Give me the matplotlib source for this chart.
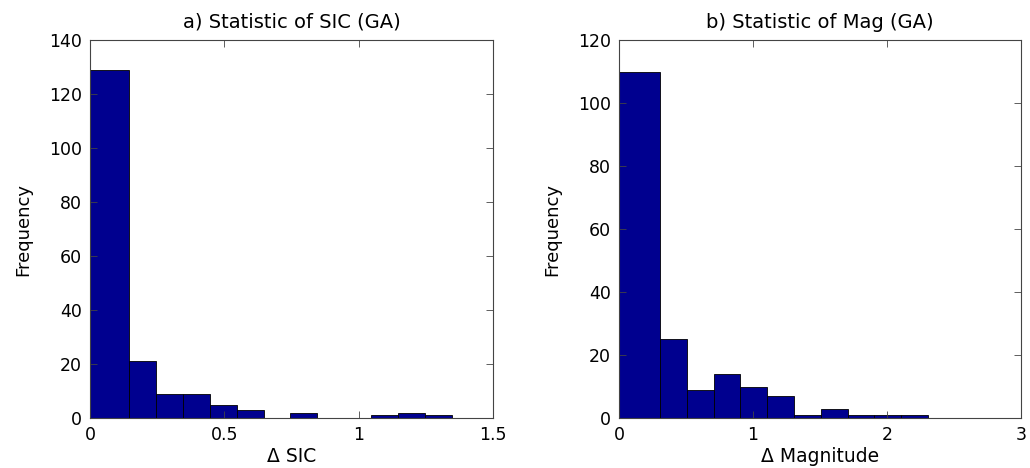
import matplotlib
matplotlib.use("Agg")
import matplotlib.pyplot as plt
import numpy as np

# histogram of Delta SIC (bin edges and counts)
sic_edges = [0, 0.146, 0.246, 0.346, 0.446, 0.546, 0.646, 0.746, 0.846,
             0.946, 1.046, 1.146, 1.246, 1.346]
sic_counts = [129, 21, 9, 9, 5, 3, 0, 2, 0, 0, 1, 2, 1]

# histogram of Delta Magnitude
mag_edges = [0, 0.306, 0.506, 0.706, 0.906, 1.106, 1.306, 1.506, 1.706,
             1.906, 2.106, 2.306]
mag_counts = [110, 25, 9, 14, 10, 7, 1, 3, 1, 1, 1]

titles = ["a) Statistic of SIC (GA)", "b) Statistic of Mag (GA)"]
xlabels = ["\u0394 SIC", "\u0394 Magnitude"]
xticks = [[0, 0.5, 1, 1.5], [0, 1, 2, 3]]
xticklabels = [["0", "0.5", "1", "1.5"], ["0", "1", "2", "3"]]
ymax = [140, 120]

plt.rcParams['font.family'] = ['DejaVu Sans']

fig = plt.figure(figsize=(10.3, 4.68), dpi=100)
ax1 = fig.add_axes([0.0874, 0.1068, 0.3913, 0.8077])
ax2 = fig.add_axes([0.601, 0.1068, 0.3903, 0.8077])

for i, (ax, edges, counts) in enumerate(zip([ax1, ax2],
                                             [sic_edges, mag_edges],
                                             [sic_counts, mag_counts])):
    edges = np.array(edges)
    ax.bar(edges[:-1], counts, width=np.diff(edges), align='edge',
           color='#00008F', edgecolor='black', linewidth=0.6)
    ax.set_xlim(xticks[i][0], xticks[i][-1])
    ax.set_ylim(0, ymax[i])
    ax.set_xticks(xticks[i])
    ax.set_xticklabels(xticklabels[i])
    ax.set_yticks(np.arange(0, ymax[i] + 1, 20))
    ax.tick_params(direction='in', top=True, right=True, length=5,
                   width=0.6, color='#444444', labelsize=12.5, pad=6)
    for s in ax.spines.values():
        s.set_color('#444444')
        s.set_linewidth(0.8)
    ax.set_title(titles[i], fontsize=14, pad=9)
    ax.set_xlabel(xlabels[i], fontsize=13.5, labelpad=2)
    ax.set_ylabel('Frequency', fontsize=13, labelpad=12)

fig.savefig('out.png', dpi=100)
